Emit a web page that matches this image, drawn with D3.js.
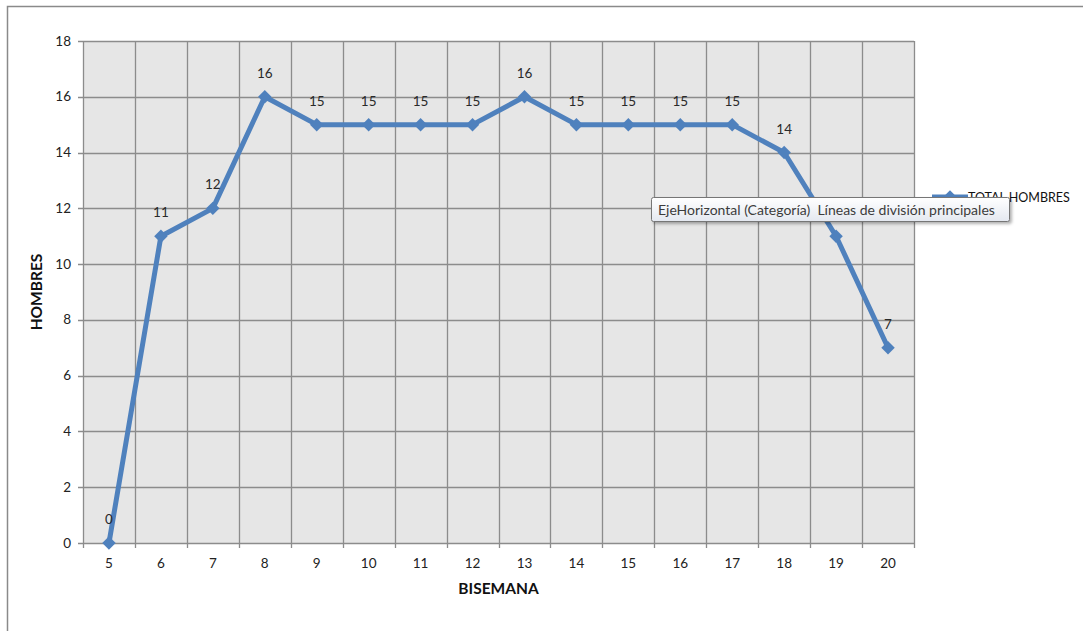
<!DOCTYPE html>
<html><head><meta charset="utf-8">
<script src="https://cdn.jsdelivr.net/npm/d3@7"></script>
<style>
body{margin:0;background:#fff;}
svg{display:block;font-family:Lato,"Open Sans",sans-serif;}
</style></head>
<body><svg id="c" width="1083" height="631"></svg>
<script>
const categories = ["5","6","7","8","9","10","11","12","13","14","15","16","17","18","19","20"];
const values = [0,11,12,16,15,15,15,15,16,15,15,15,15,14,11,7];
const yTicks = [0,2,4,6,8,10,12,14,16,18];
const seriesName = "TOTAL HOMBRES";
const xTitle = "BISEMANA";
const yTitle = "HOMBRES";
const tooltipText = "EjeHorizontal (Categoría)  Líneas de división principales";

const svg = d3.select("#c");
const L=83, R=914, T=41, B=543;
const x = d3.scaleBand().domain(categories).range([L,R]).padding(0);
const y = d3.scaleLinear().domain([0,18]).range([B,T]);
const cx = d => x(d)+x.bandwidth()/2;

// outer border
svg.append("path").attr("d","M7.5,631 L7.5,6.5 L1083,6.5").attr("fill","none").attr("stroke","#8a8a8a").attr("stroke-width",1.5);

// plot bg
svg.append("rect").attr("x",L).attr("y",T).attr("width",R-L).attr("height",B-T).attr("fill","#e6e6e6");

const gridColor="#8c8c8c";
svg.append("g").selectAll("line").data(yTicks).join("line")
  .attr("x1",L-5).attr("x2",R).attr("y1",d=>Math.round(y(d))+0.5).attr("y2",d=>Math.round(y(d))+0.5)
  .attr("stroke",gridColor).attr("stroke-width",1.3);
const bounds = categories.map(c=>x(c)).concat([R]);
svg.append("g").selectAll("line").data(bounds).join("line")
  .attr("x1",d=>Math.round(d)+0.5).attr("x2",d=>Math.round(d)+0.5).attr("y1",T).attr("y2",B+5)
  .attr("stroke",gridColor).attr("stroke-width",1.3);

svg.append("g").selectAll("text").data(yTicks).join("text")
  .attr("x",71).attr("y",d=>y(d)+4.5).attr("text-anchor","end")
  .attr("font-size",13.5).attr("fill","#222").text(d=>d);
svg.append("g").selectAll("text").data(categories).join("text")
  .attr("x",d=>cx(d)).attr("y",568).attr("text-anchor","middle")
  .attr("font-size",13.5).attr("fill","#222").text(d=>d);

svg.append("text").attr("x",(L+R)/2).attr("y",594).attr("text-anchor","middle")
  .attr("font-size",15.5).attr("font-weight","bold").attr("fill","#111").text(xTitle);
svg.append("text").attr("transform","translate(42,292) rotate(-90)").attr("text-anchor","middle")
  .attr("font-size",15.5).attr("font-weight","bold").attr("fill","#111").text(yTitle);

const blue="#4f81bd";
const line = d3.line().x((d,i)=>cx(categories[i])).y(d=>y(d));
svg.append("path").datum(values).attr("d",line).attr("fill","none")
  .attr("stroke",blue).attr("stroke-width",5).attr("stroke-linejoin","round");
const diamond = d3.symbol().type(d3.symbolSquare).size(90);
svg.append("g").selectAll("path").data(values).join("path")
  .attr("transform",(d,i)=>`translate(${cx(categories[i])},${y(d)}) rotate(45)`)
  .attr("d",diamond).attr("fill",blue);
svg.append("g").selectAll("text").data(values).join("text")
  .attr("x",(d,i)=>cx(categories[i])).attr("y",d=>y(d)-19).attr("text-anchor","middle")
  .attr("font-size",13.5).attr("fill","#2a2a2a").text(d=>d);

// legend
svg.append("line").attr("x1",932).attr("x2",968).attr("y1",197).attr("y2",197).attr("stroke",blue).attr("stroke-width",5);
svg.append("path").attr("transform","translate(950,197) rotate(45)").attr("d",diamond).attr("fill",blue);
svg.append("text").attr("x",968).attr("y",202).attr("font-size",12.5).attr("fill","#111").text(seriesName);

// tooltip
const defs = svg.append("defs");
const gr = defs.append("linearGradient").attr("id","tg").attr("x1",0).attr("x2",0).attr("y1",0).attr("y2",1);
gr.append("stop").attr("offset","0%").attr("stop-color","#ffffff");
gr.append("stop").attr("offset","100%").attr("stop-color","#e4e8f0");
const f = defs.append("filter").attr("id","sh").attr("x","-5%").attr("y","-20%").attr("width","110%").attr("height","160%");
f.append("feDropShadow").attr("dx",2).attr("dy",2).attr("stdDeviation",1.5).attr("flood-color","#000").attr("flood-opacity",0.3);
svg.append("rect").attr("x",651.5).attr("y",197.5).attr("width",358).attr("height",24).attr("rx",2)
  .attr("fill","url(#tg)").attr("stroke","#767676").attr("filter","url(#sh)");
svg.append("text").attr("x",658).attr("y",214.5).attr("font-size",14).style("white-space","pre")
  .attr("fill","#3c3c3c").text(tooltipText);
</script></body></html>
